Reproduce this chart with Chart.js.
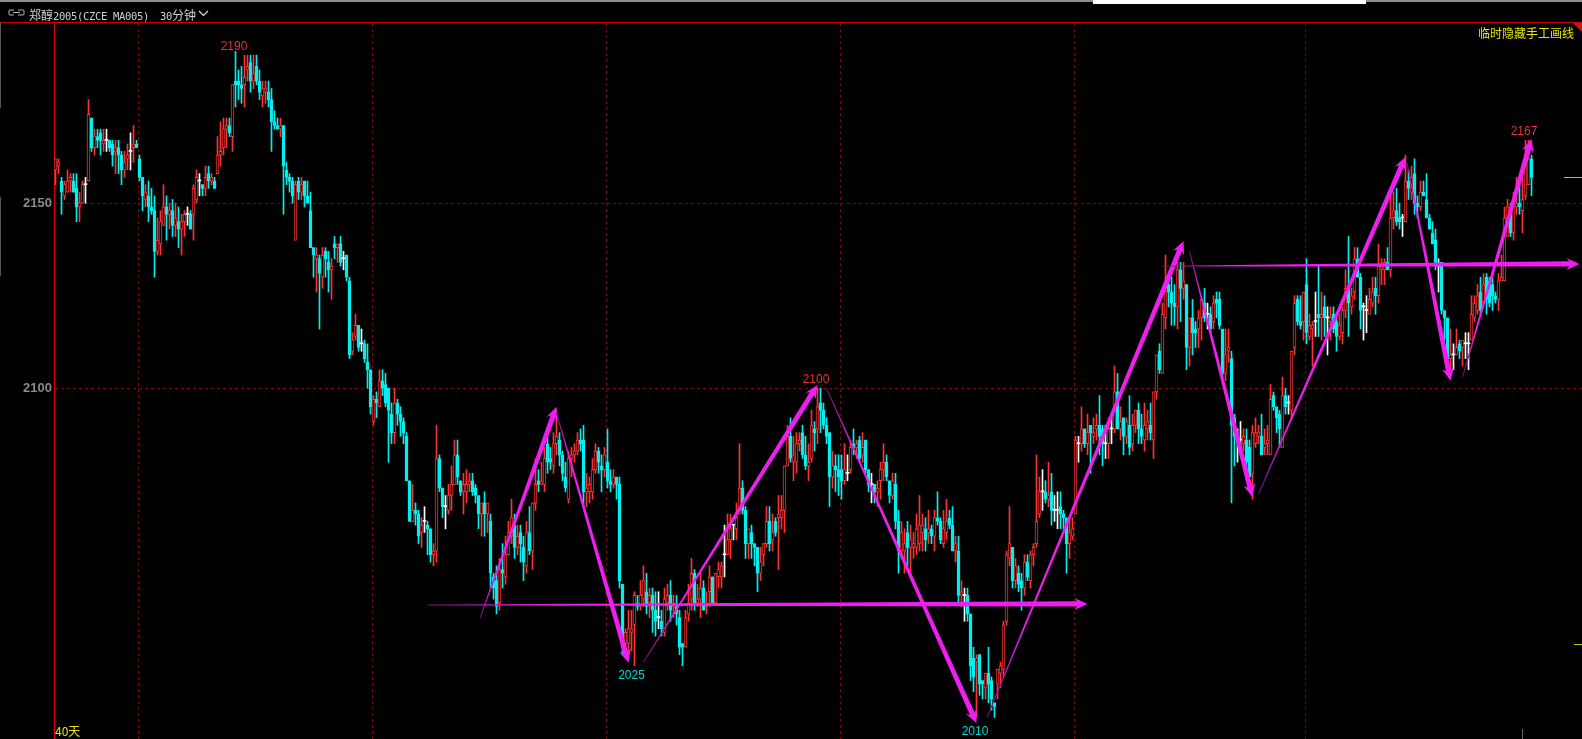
<!DOCTYPE html>
<html>
<head>
<meta charset="utf-8">
<title>郑醇2005 30分钟</title>
<script src="https://cdn.jsdelivr.net/npm/chart.js@4/dist/chart.umd.js"></script>
<style>
  html, body { margin: 0; padding: 0; background: #000; overflow: hidden; }
  #wrap { position: relative; width: 1582px; height: 739px; overflow: hidden; }
  canvas { position: absolute; left: 0; top: 0; }
  .txt { position: absolute; white-space: pre; line-height: 14px; }
  .box { position: absolute; }
  .mono { font: 10.5px 'DejaVu Sans Mono'; letter-spacing: -0.32px; }
</style>
</head>
<body>
<div id="wrap">
  <canvas id="chart" width="1582" height="739"></canvas>
  <div class="box" style="left:0;top:0;width:1582px;height:2px;background:#8c8c8c"></div>
  <div class="box" style="left:1093px;top:0;width:273px;height:4px;background:#fff"></div>
  <div class="box" style="left:0;top:22px;width:1582px;height:1px;background:#c80000"></div>
  <div class="box" style="left:0;top:22px;width:1px;height:86px;background:#555"></div>
  <div class="box" style="left:0;top:197px;width:1px;height:79px;background:#555"></div>
  <svg class="box" style="left:8px;top:9px" width="17" height="8">
    <path d="M6 1H2Q1 1 1 2V5Q1 6 2 6H6M10 1H15Q16 1 16 2V5Q16 6 15 6H10M5 3.5H12" fill="none" stroke="#b8b8b8"/>
  </svg>
  <div class="txt" style="left:29px;top:6px;color:#d0d0d0;font:12px 'Noto Sans CJK SC'">郑醇<span class="mono">2005(CZCE MA005)</span></div>
  <div class="txt" style="left:160px;top:6px;color:#d0d0d0;font:12px 'Noto Sans CJK SC'"><span class="mono">30</span>分钟</div>
  <svg class="box" style="left:198px;top:10px" width="11" height="7">
    <path d="M1 1L5.5 5.5L10 1" fill="none" stroke="#e0e0e0" stroke-width="1.2"/>
  </svg>
  <div class="txt" style="left:1478px;top:24px;color:#e6e600;font:12px 'Noto Sans CJK SC'">临时隐藏手工画线</div>
  <svg class="box" style="left:1573px;top:23px" width="9" height="9"><path d="M0 0H9V9Z" fill="#c81414"/></svg>
  <div class="box" style="left:1564px;top:177px;width:18px;height:1px;background:#c8c800"></div>
  <div class="box" style="left:1574px;top:644px;width:8px;height:1px;background:#c8c800"></div>
  <div class="box" style="left:1522px;top:729px;width:1px;height:10px;background:#666"></div>
  <div class="txt" style="left:55px;top:722px;color:#e6e600;font:12px 'Noto Sans CJK SC'">40天</div>
</div>
<script>
// 30 minute bars
const opens = [
  2159,2160,2156,2152,2153,2156,2156,2154,2149,2150,
  2155,2156,2173,2165,2168,2169,2166,2167,2167,2166,
  2164,2165,2163,2159,2162,2164,2165,2166,2162,2157,
  2151,2152,2149,2148,2137,2139,2144,2149,2147,2148,
  2144,2145,2143,2145,2147,2147,2147,2151,2156,2155,
  2154,2158,2156,2156,2158,2163,2165,2170,2171,2168,
  2183,2183,2182,2182,2186,2188,2183,2187,2183,2179,
  2180,2180,2178,2172,2171,2170,2171,2159,2157,2156,
  2140,2156,2153,2156,2152,2148,2138,2135,2135,2130,
  2137,2134,2132,2139,2138,2139,2135,2136,2129,2110,
  2114,2117,2112,2112,2107,2105,2091,2097,2095,2102,
  2101,2100,2093,2088,2096,2093,2091,2087,2075,2064,
  2067,2066,2061,2064,2063,2062,2055,2056,2081,2073,
  2068,2067,2071,2074,2082,2075,2072,2072,2074,2075,
  2073,2071,2066,2069,2066,2064,2049,2048,2042,2051,
  2049,2055,2060,2063,2057,2061,2057,2052,2061,2056,
  2069,2075,2074,2074,2085,2081,2079,2085,2086,2082,
  2076,2070,2081,2082,2083,2086,2086,2072,2072,2072,
  2078,2083,2079,2078,2080,2075,2074,2076,2074,2047,
  2031,2031,2034,2036,2042,2041,2043,2045,2042,2044,
  2040,2038,2037,2034,2042,2044,2041,2041,2038,2031,
  2030,2039,2043,2050,2042,2043,2046,2041,2045,2049,
  2042,2049,2049,2055,2055,2059,2063,2062,2066,2073,
  2067,2058,2061,2058,2057,2050,2055,2058,2064,2059,
  2064,2065,2065,2067,2079,2087,2080,2080,2085,2088,
  2082,2079,2081,2089,2089,2096,2094,2090,2088,2076,
  2079,2078,2078,2075,2077,2078,2085,2084,2086,2082,
  2086,2078,2074,2074,2072,2075,2078,2080,2075,2071,
  2074,2064,2056,2056,2061,2057,2057,2057,2058,2061,
  2062,2061,2062,2060,2065,2064,2058,2061,2065,2063,
  2056,2056,2044,2044,2044,2039,2027,2026,2028,2021,
  2019,2023,2021,2015,2020,2023,2024,2037,2054,2057,
  2048,2050,2048,2046,2053,2048,2055,2058,2066,2072,
  2072,2070,2072,2067,2067,2068,2066,2065,2058,2060,
  2066,2085,2085,2089,2085,2090,2087,2089,2090,2089,
  2085,2085,2089,2089,2099,2089,2092,2087,2090,2085,
  2090,2094,2089,2086,2089,2090,2086,2099,2110,2104,
  2119,2128,2126,2123,2122,2132,2127,2128,2111,2119,
  2116,2116,2119,2123,2120,2120,2118,2124,2124,2116,
  2104,2110,2108,2092,2086,2086,2085,2086,2084,2077,
  2085,2087,2087,2084,2085,2082,2098,2095,2093,2084,
  2098,2096,2094,2111,2124,2118,2118,2128,2114,2116,
  2118,2120,2119,2122,2119,2118,2120,2118,2114,2115,
  2121,2127,2122,2126,2135,2130,2122,2121,2120,2123,
  2127,2125,2132,2132,2134,2132,2146,2148,2146,2146,
  2145,2156,2153,2158,2150,2149,2153,2151,2146,2142,
  2140,2133,2134,2121,2119,2108,2109,2109,2112,2111,
  2112,2112,2113,2119,2121,2126,2123,2130,2129,2128,
  2125,2124,2129,2129,2141,2147,2142,2149,2150,2148,
  2152,2155,2162
];
const closes = [
  2162,2161,2153,2155,2156,2157,2153,2149,2150,2155,
  2155,2174,2165,2168,2167,2167,2167,2167,2165,2163,
  2165,2163,2159,2161,2163,2164,2166,2165,2157,2152,
  2153,2149,2148,2137,2140,2145,2149,2147,2148,2144,
  2146,2143,2145,2147,2147,2143,2154,2157,2156,2154,
  2157,2156,2157,2154,2163,2164,2170,2171,2169,2182,
  2182,2182,2181,2184,2187,2183,2185,2183,2180,2181,
  2181,2178,2172,2171,2170,2171,2160,2157,2156,2152,
  2155,2153,2155,2152,2150,2138,2136,2136,2131,2136,
  2135,2132,2133,2138,2139,2134,2135,2130,2109,2113,
  2117,2111,2112,2108,2105,2095,2097,2096,2102,2100,
  2096,2094,2088,2096,2093,2091,2088,2075,2064,2067,
  2066,2060,2063,2064,2062,2055,2056,2081,2073,2068,
  2068,2071,2074,2082,2076,2072,2074,2074,2075,2072,
  2071,2066,2069,2066,2069,2050,2046,2041,2051,2050,
  2055,2061,2065,2057,2060,2058,2053,2061,2056,2069,
  2074,2074,2075,2081,2080,2080,2085,2087,2082,2077,
  2073,2081,2082,2083,2086,2085,2072,2073,2074,2078,
  2083,2080,2078,2082,2075,2074,2076,2074,2048,2030,
  2034,2035,2035,2044,2041,2044,2048,2041,2044,2040,
  2037,2038,2035,2043,2044,2040,2042,2039,2030,2030,
  2038,2042,2050,2042,2043,2046,2040,2042,2049,2042,
  2050,2051,2052,2055,2059,2062,2063,2065,2073,2067,
  2058,2062,2058,2057,2050,2053,2058,2064,2058,2061,
  2061,2066,2067,2079,2087,2081,2082,2085,2086,2082,
  2079,2080,2090,2088,2095,2094,2090,2087,2076,2079,
  2078,2076,2075,2078,2077,2084,2084,2085,2081,2084,
  2078,2074,2074,2072,2073,2078,2080,2076,2071,2075,
  2064,2056,2061,2058,2057,2059,2058,2062,2063,2063,
  2059,2062,2060,2065,2064,2059,2062,2064,2063,2056,
  2058,2044,2045,2044,2039,2025,2022,2027,2020,2020,
  2023,2020,2016,2014,2024,2025,2036,2055,2058,2048,
  2052,2047,2046,2053,2049,2055,2057,2064,2072,2072,
  2070,2071,2067,2067,2067,2066,2065,2058,2061,2062,
  2086,2085,2089,2085,2088,2088,2088,2090,2087,2085,
  2085,2089,2089,2099,2089,2091,2087,2091,2084,2090,
  2094,2089,2087,2090,2091,2088,2099,2109,2105,2120,
  2126,2126,2123,2122,2132,2127,2129,2111,2119,2115,
  2115,2119,2124,2119,2120,2116,2123,2123,2117,2104,
  2109,2111,2090,2087,2086,2086,2087,2080,2076,2088,
  2088,2088,2082,2085,2086,2097,2095,2092,2089,2098,
  2095,2096,2110,2123,2118,2117,2126,2115,2117,2117,
  2118,2119,2120,2119,2119,2119,2116,2114,2117,2121,
  2127,2123,2125,2135,2130,2121,2122,2121,2124,2126,
  2125,2133,2133,2134,2132,2146,2148,2145,2145,2146,
  2156,2154,2157,2150,2149,2153,2152,2146,2143,2139,
  2134,2133,2121,2119,2108,2109,2109,2111,2110,2113,
  2112,2112,2120,2123,2125,2121,2128,2124,2123,2125,
  2124,2129,2130,2146,2149,2142,2149,2150,2149,2151,
  2162,2162,2157
];
const highs = [
  2162,2162,2157,2156,2159,2158,2158,2158,2153,2156,
  2157,2178,2173,2170,2170,2170,2170,2170,2167,2167,
  2167,2167,2164,2164,2166,2169,2171,2167,2163,2157,
  2155,2156,2154,2152,2146,2148,2155,2152,2150,2151,
  2150,2149,2147,2148,2149,2148,2155,2159,2158,2155,
  2160,2160,2158,2157,2168,2172,2173,2173,2173,2182,
  2191,2186,2187,2190,2190,2190,2190,2190,2186,2183,
  2183,2183,2181,2175,2173,2173,2171,2161,2158,2157,
  2156,2157,2157,2156,2156,2153,2138,2138,2136,2138,
  2138,2137,2135,2141,2139,2141,2137,2136,2130,2115,
  2120,2117,2116,2113,2112,2105,2098,2099,2105,2105,
  2104,2100,2096,2100,2097,2095,2092,2088,2075,2074,
  2069,2067,2065,2068,2064,2062,2058,2090,2082,2073,
  2071,2074,2079,2086,2086,2075,2077,2078,2077,2077,
  2074,2071,2069,2072,2069,2066,2050,2052,2054,2058,
  2060,2064,2070,2066,2063,2063,2060,2064,2068,2069,
  2081,2078,2080,2084,2087,2084,2088,2093,2088,2083,
  2080,2083,2084,2085,2088,2089,2090,2077,2076,2081,
  2085,2084,2082,2084,2089,2078,2078,2076,2076,2047,
  2035,2040,2040,2045,2044,2048,2052,2050,2046,2046,
  2045,2045,2040,2046,2047,2048,2044,2044,2040,2031,
  2040,2047,2054,2051,2047,2050,2048,2045,2052,2049,
  2050,2053,2053,2063,2066,2066,2063,2069,2085,2075,
  2068,2062,2063,2058,2057,2057,2058,2068,2068,2066,
  2065,2071,2071,2079,2090,2092,2087,2088,2088,2090,
  2087,2085,2094,2091,2100,2100,2096,2092,2088,2083,
  2082,2082,2082,2085,2082,2086,2089,2086,2087,2088,
  2086,2078,2077,2074,2075,2080,2085,2082,2075,2077,
  2077,2067,2064,2062,2064,2063,2061,2066,2071,2066,
  2065,2067,2063,2067,2072,2065,2067,2070,2067,2068,
  2060,2060,2048,2046,2046,2039,2030,2028,2028,2021,
  2023,2030,2022,2015,2024,2026,2037,2056,2068,2057,
  2054,2052,2050,2055,2055,2056,2058,2082,2076,2078,
  2075,2080,2077,2071,2072,2072,2067,2065,2065,2065,
  2087,2087,2095,2089,2093,2090,2092,2093,2098,2090,
  2090,2092,2092,2106,2104,2095,2092,2092,2098,2093,
  2094,2096,2093,2096,2094,2096,2099,2109,2112,2123,
  2136,2129,2130,2128,2134,2134,2134,2128,2119,2124,
  2118,2121,2124,2127,2123,2122,2125,2126,2126,2116,
  2116,2116,2110,2093,2089,2091,2089,2089,2086,2090,
  2092,2090,2093,2089,2090,2101,2099,2095,2094,2103,
  2100,2098,2110,2125,2125,2125,2126,2135,2120,2118,
  2126,2133,2126,2125,2122,2122,2122,2120,2120,2122,
  2132,2141,2127,2138,2138,2131,2123,2125,2127,2130,
  2130,2139,2135,2135,2138,2152,2153,2154,2150,2147,
  2163,2159,2160,2162,2152,2156,2156,2158,2147,2145,
  2143,2135,2134,2121,2119,2116,2112,2116,2113,2113,
  2115,2115,2125,2125,2128,2130,2131,2131,2130,2131,
  2126,2131,2136,2149,2151,2150,2153,2157,2157,2158,
  2167,2167,2163
];
const lows = [
  2155,2158,2147,2151,2153,2153,2153,2145,2145,2150,
  2150,2156,2164,2163,2165,2163,2164,2164,2164,2160,
  2158,2158,2155,2157,2159,2159,2161,2165,2156,2148,
  2149,2145,2147,2130,2136,2136,2144,2140,2143,2141,
  2141,2138,2136,2141,2144,2143,2140,2150,2152,2152,
  2152,2154,2155,2154,2158,2160,2163,2165,2168,2164,
  2176,2178,2177,2176,2183,2180,2181,2182,2178,2176,
  2177,2176,2164,2170,2170,2168,2147,2155,2153,2150,
  2140,2151,2151,2149,2150,2138,2130,2126,2116,2127,
  2130,2126,2124,2135,2134,2133,2132,2129,2108,2109,
  2113,2110,2110,2107,2100,2093,2090,2092,2095,2098,
  2095,2080,2085,2085,2090,2087,2085,2075,2064,2064,
  2063,2058,2057,2061,2055,2053,2052,2053,2072,2065,
  2062,2066,2067,2074,2074,2071,2066,2069,2072,2071,
  2069,2062,2060,2060,2061,2046,2043,2039,2040,2046,
  2047,2055,2058,2054,2055,2053,2048,2050,2055,2051,
  2067,2072,2074,2072,2077,2078,2077,2082,2079,2075,
  2072,2069,2076,2080,2082,2083,2068,2068,2069,2070,
  2077,2077,2072,2076,2073,2072,2073,2070,2046,2028,
  2028,2028,2029,2025,2040,2040,2041,2039,2038,2034,
  2033,2035,2033,2033,2040,2037,2038,2036,2028,2025,
  2030,2037,2040,2040,2041,2038,2040,2039,2041,2042,
  2042,2046,2046,2049,2055,2054,2059,2059,2066,2066,
  2054,2054,2054,2052,2045,2048,2052,2057,2056,2056,
  2060,2051,2062,2061,2079,2080,2075,2077,2083,2081,
  2078,2075,2080,2083,2085,2088,2089,2085,2068,2073,
  2072,2071,2070,2074,2075,2077,2082,2081,2080,2080,
  2077,2072,2069,2069,2068,2070,2075,2075,2069,2070,
  2062,2050,2054,2050,2052,2050,2054,2055,2056,2056,
  2056,2058,2058,2056,2063,2058,2057,2059,2062,2056,
  2053,2042,2041,2037,2037,2021,2018,2011,2017,2016,
  2016,2015,2013,2011,2016,2019,2022,2036,2052,2046,
  2046,2045,2040,2044,2048,2046,2052,2057,2065,2067,
  2069,2068,2063,2064,2062,2062,2062,2050,2054,2059,
  2066,2080,2083,2084,2082,2077,2085,2086,2082,2079,
  2081,2081,2085,2088,2089,2086,2082,2085,2082,2083,
  2088,2085,2085,2083,2086,2086,2081,2097,2104,2104,
  2116,2122,2117,2117,2116,2118,2124,2105,2106,2109,
  2111,2111,2113,2118,2116,2115,2116,2119,2116,2103,
  2102,2107,2069,2079,2080,2083,2083,2077,2076,2070,
  2084,2085,2082,2082,2082,2082,2094,2088,2084,2084,
  2093,2093,2092,2109,2117,2116,2113,2112,2113,2106,
  2114,2114,2113,2114,2109,2113,2115,2110,2113,2112,
  2119,2114,2120,2124,2130,2116,2113,2115,2120,2122,
  2120,2123,2128,2128,2132,2130,2143,2144,2143,2141,
  2145,2151,2151,2147,2146,2148,2152,2146,2143,2139,
  2132,2126,2120,2113,2105,2104,2105,2109,2108,2106,
  2108,2105,2113,2118,2120,2120,2123,2120,2122,2121,
  2123,2121,2130,2129,2141,2141,2140,2147,2147,2142,
  2151,2155,2152
];

const priceTicks = [2100, 2150];
const sessionBars = [27.67, 105.5, 183.5, 261.5, 339.5, 416.67];

// hand drawn trend arrows: [bar, price] ends
const arrowFromBars   = [141.5, 167, 196, 257, 310.5, 378, 401, 450.5, 469, 124, 369];
const arrowFromPrices = [2037.9, 2093.3, 2026, 2100, 2011, 2137, 2071.4, 2161, 2103, 2041.4, 2133];
const arrowToBars     = [167, 191, 254, 307, 376, 399, 450, 465, 492, 344, 508];
const arrowToPrices   = [2095, 2025.8, 2100.9, 2009.5, 2139.8, 2070.6, 2162.5, 2102, 2167.4, 2041.7, 2133.6];

const noteBars   = [59.5, 192, 253.5, 306.5, 489.5];
const notePrices = [2192.2, 2022.3, 2102.2, 2007.1, 2169.3];
const noteTexts  = ['2190', '2025', '2100', '2010', '2167'];
const noteColors = ['#e63232', '#00d8d8', '#e63232', '#00d8d8', '#e63232'];

const RED = '#ff3232';
const CYAN = '#00f0f0';
const WHITE = '#ffffff';
const MAGENTA = '#ee1eee';

const candleColor = opens.map((o, i) => closes[i] > o ? RED : closes[i] < o ? CYAN : WHITE);
const bodyFill = opens.map((o, i) => closes[i] > o ? '#000000' : candleColor[i]);
const bodyBorder = opens.map((o, i) => closes[i] === o ? 0 : 1);

const arrowsPlugin = {
  id: 'trendArrows',
  afterDatasetsDraw(chart) {
    const { ctx, scales: { x, y } } = chart;
    ctx.save();
    arrowFromBars.forEach((bar, i) => {
      const x0 = x.getPixelForValue(bar);
      const y0 = y.getPixelForValue(arrowFromPrices[i]);
      const x1 = x.getPixelForValue(arrowToBars[i]);
      const y1 = y.getPixelForValue(arrowToPrices[i]);
      const len = Math.hypot(x1 - x0, y1 - y0);
      const ux = (x1 - x0) / len, uy = (y1 - y0) / len;
      const nx = -uy, ny = ux;
      const startW = 0.45, endW = 2.6, headLen = 13, headW = 6;
      const bx = x1 - ux * headLen * 0.8, by = y1 - uy * headLen * 0.8;
      const hx = x1 - ux * headLen, hy = y1 - uy * headLen;
      // thin start of the stroke looks darker in the reference
      const fade = ctx.createLinearGradient(x0, y0, x1, y1);
      fade.addColorStop(0, '#7a127a');
      fade.addColorStop(0.2, MAGENTA);
      fade.addColorStop(1, MAGENTA);
      ctx.fillStyle = fade;
      ctx.beginPath();
      ctx.moveTo(x0 + nx * startW, y0 + ny * startW);
      ctx.lineTo(bx + nx * endW, by + ny * endW);
      ctx.lineTo(hx + nx * headW, hy + ny * headW);
      ctx.lineTo(x1, y1);
      ctx.lineTo(hx - nx * headW, hy - ny * headW);
      ctx.lineTo(bx - nx * endW, by - ny * endW);
      ctx.lineTo(x0 - nx * startW, y0 - ny * startW);
      ctx.closePath();
      ctx.fill();
    });

    ctx.font = "12px 'Liberation Sans'";
    ctx.textAlign = 'center';
    ctx.textBaseline = 'middle';
    noteTexts.forEach((t, i) => {
      ctx.fillStyle = noteColors[i];
      ctx.fillText(t, x.getPixelForValue(noteBars[i]), y.getPixelForValue(notePrices[i]));
    });
    ctx.restore();
  }
};

new Chart(document.getElementById('chart'), {
  type: 'bar',
  data: {
    datasets: [
      {
        label: 'body',
        data: opens.map((o, i) => ({ x: i, y: [o, closes[i]] })),
        backgroundColor: bodyFill,
        borderColor: candleColor,
        borderWidth: bodyBorder,
        borderSkipped: false,
        barThickness: 3,
        minBarLength: 1,
        grouped: false,
        order: 1
      },
      {
        label: 'wick',
        data: lows.map((l, i) => ({ x: i, y: [l, highs[i]] })),
        backgroundColor: candleColor,
        borderWidth: 0,
        barThickness: 1,
        grouped: false,
        order: 2
      }
    ]
  },
  options: {
    responsive: false,
    animation: false,
    events: [],
    layout: { padding: { top: 23, left: 0, right: 0, bottom: 0 } },
    plugins: { legend: { display: false }, tooltip: { enabled: false } },
    scales: {
      x: {
        type: 'linear',
        offset: false,
        min: -0.5,
        max: 508.83,
        afterBuildTicks: s => { s.ticks = sessionBars.map(v => ({ value: v })); },
        afterFit: s => { s.height = 0; },
        ticks: { display: false },
        border: { display: false, dash: [3, 3] },
        grid: { color: '#8c0000', lineWidth: 1, drawTicks: false, offset: false }
      },
      y: {
        min: 2005.2,
        max: 2198.7,
        afterBuildTicks: s => { s.ticks = priceTicks.map(v => ({ value: v })); },
        afterFit: s => { s.width = 54; s.paddingTop = 0; s.paddingBottom = 0; },
        ticks: {
          color: '#8a8a8a',
          font: { family: 'Liberation Sans', size: 13, weight: 'bold' },
          padding: 2,
          callback: v => String(v)
        },
        border: { display: true, color: '#d80000', width: 1, dash: [3, 3] },
        grid: { color: '#8c0000', lineWidth: 1, drawTicks: false }
      }
    }
  },
  plugins: [arrowsPlugin]
});
</script>
</body>
</html>
